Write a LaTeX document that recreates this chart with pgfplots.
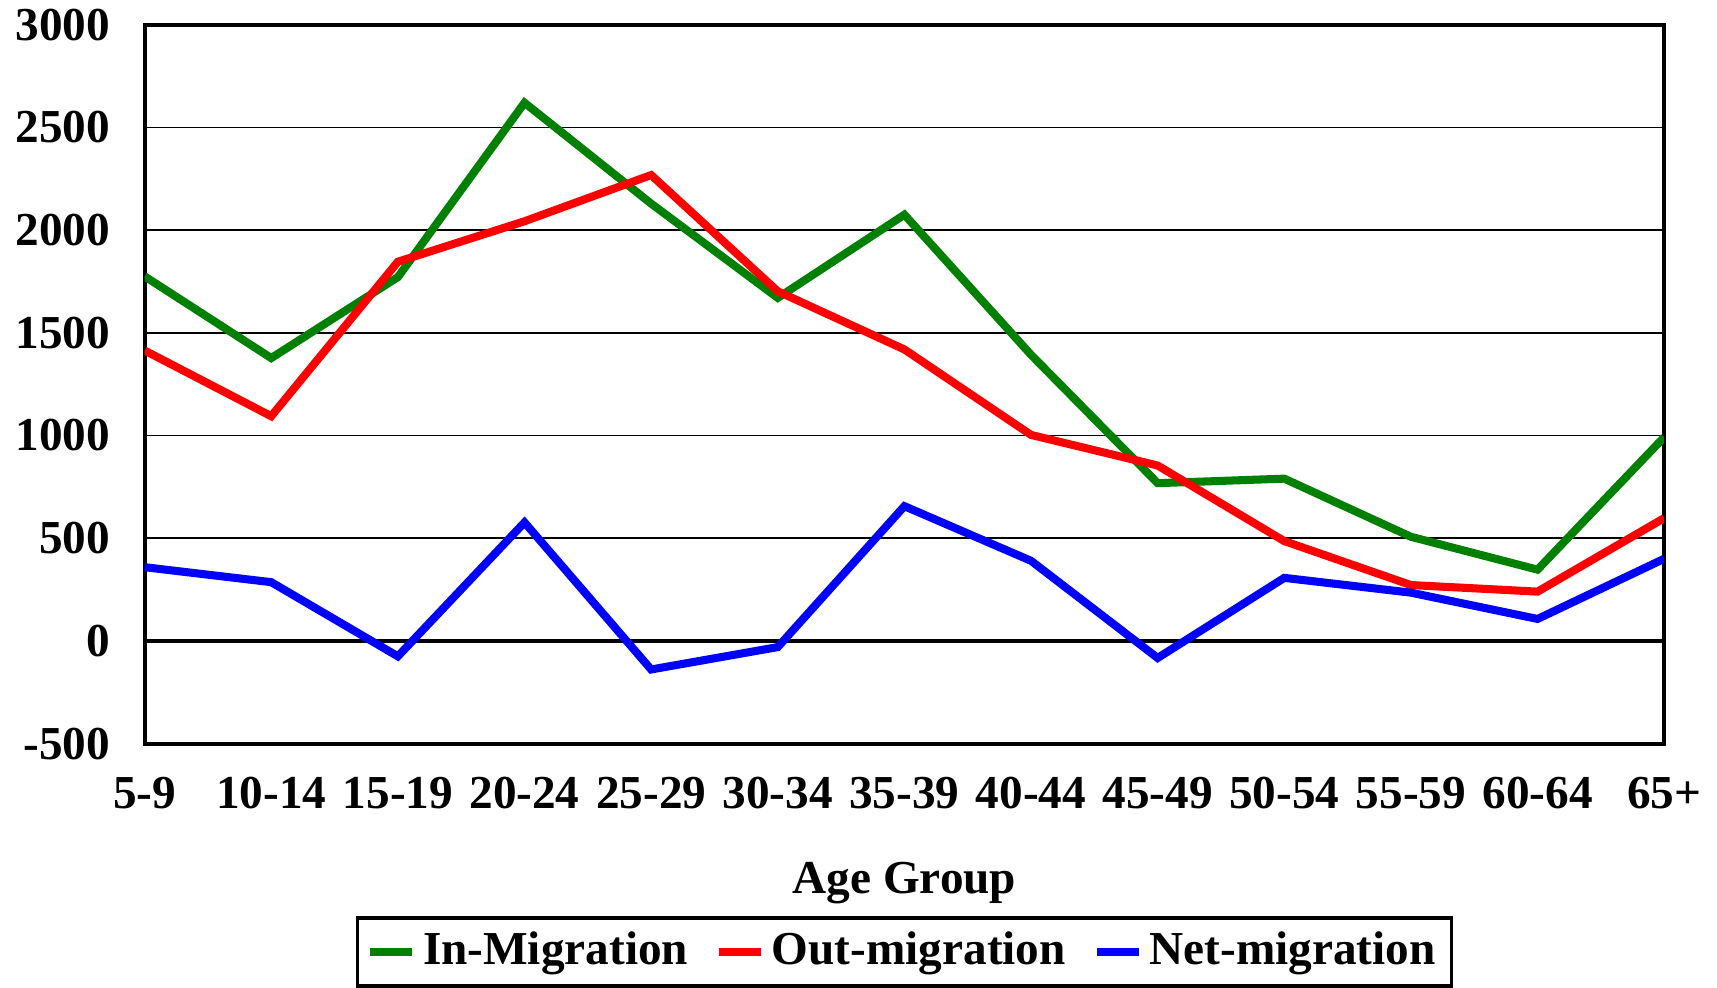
\documentclass[border=0pt]{standalone}
\usepackage{fontspec}
\setmainfont{Liberation Serif}
\usepackage{pgfplots}
\pgfplotsset{compat=1.18}
\definecolor{ingreen}{RGB}{0,128,0}
\begin{document}
\fontsize{13.5}{16}\selectfont\bfseries
\begin{tikzpicture}
\begin{axis}[
  scale only axis, width=15.26cm, height=7.22cm,
  xmin=0, xmax=12, ymin=-500, ymax=3000,
  ytick={-500,0,500,1000,1500,2000,2500,3000},
  xtick={0,...,12},
  xticklabels={5-9,10-14,15-19,20-24,25-29,30-34,35-39,40-44,45-49,50-54,55-59,60-64,65+},
  ymajorgrids, grid style={black, line width=0.5pt},
  axis line style={line width=1.1pt},
  major tick length=0pt,
  /pgf/number format/assume math mode=true,
  /pgf/number format/1000 sep={},
  tick label style={font=\fontsize{13.5}{16}\selectfont\bfseries},
  yticklabel style={xshift=-0.18cm, inner ysep=2.5pt},
  xticklabel style={yshift=-0.17cm},
  xlabel={Age Group},
  xlabel style={font=\fontsize{13.5}{16}\selectfont\bfseries, yshift=-0.21cm},
  legend style={at={(0.5,-0.24)}, anchor=north, legend columns=3, draw=black, line width=1pt,
    font=\fontsize{13.5}{16}\selectfont\bfseries, inner ysep=2pt, inner xsep=2.5pt,
    /tikz/every even column/.append style={column sep=0.2cm}},
  legend image code/.code={\draw[#1, line width=2.3pt] (0cm,0cm) -- (0.42cm,0cm);},
]
\draw[black, line width=1pt] (axis cs:0,0) -- (axis cs:12,0);
\addplot[ingreen, line width=2.3pt] coordinates {
(0,1775) (1,1377) (2,1771) (3,2620) (4,2129) (5,1670) (6,2075) (7,1393) (8,768) (9,790) (10,507) (11,347) (12,992)};
\addlegendentry{In-Migration}
\addplot[red, line width=2.3pt] coordinates {
(0,1414) (1,1094) (2,1846) (3,2043) (4,2268) (5,1702) (6,1419) (7,1003) (8,854) (9,486) (10,272) (11,240) (12,598)};
\addlegendentry{Out-migration}
\addplot[blue, line width=2.3pt] coordinates {
(0,359) (1,286) (2,-75) (3,577) (4,-139) (5,-30) (6,656) (7,390) (8,-83) (9,307) (10,235) (11,107) (12,400)};
\addlegendentry{Net-migration}
\end{axis}
\end{tikzpicture}
\end{document}
